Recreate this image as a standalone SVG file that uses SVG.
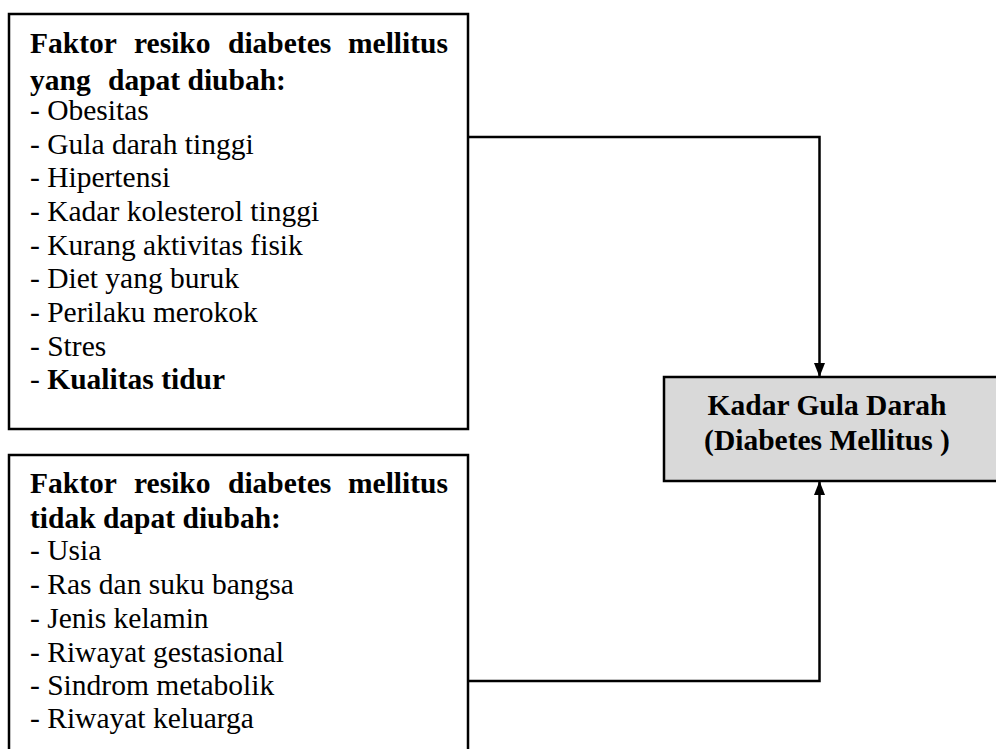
<svg xmlns="http://www.w3.org/2000/svg" width="996" height="749" viewBox="0 0 996 749">
<style>
.box{fill:#ffffff;stroke:#000000;stroke-width:2.5}
.main{fill:#d9d9d9;stroke:#000000;stroke-width:2.5}
.t{font-family:"Liberation Serif","Times New Roman",serif;font-size:29.5px;fill:#000000}
.b{font-weight:bold}
.c{text-anchor:middle}
.conn{fill:none;stroke:#000000;stroke-width:2.5}
</style>
<defs>
<marker id="arr" markerWidth="14" markerHeight="11" refX="14" refY="5.5" orient="auto" markerUnits="userSpaceOnUse" viewBox="0 0 14 11">
<path d="M0,0 L14,5.5 L0,11 Z" fill="#000000"/>
</marker>
</defs>
<rect width="996" height="749" fill="#ffffff"/>
<g id="node-modifiable">
<rect class="box" x="9" y="14" width="459" height="415"/>
<text class="t b" y="53"><tspan x="30">Faktor</tspan><tspan x="134">resiko</tspan><tspan x="228">diabetes</tspan><tspan x="348">mellitus</tspan></text>
<text class="t b" y="90"><tspan x="30">yang</tspan><tspan x="108">dapat diubah:</tspan></text>
<text class="t" x="30" y="120">- Obesitas</text>
<text class="t" x="30" y="154">- Gula darah tinggi</text>
<text class="t" x="30" y="187">- Hipertensi</text>
<text class="t" x="30" y="221">- Kadar kolesterol tinggi</text>
<text class="t" x="30" y="255">- Kurang aktivitas fisik</text>
<text class="t" x="30" y="288">- Diet yang buruk</text>
<text class="t" x="30" y="322">- Perilaku merokok</text>
<text class="t" x="30" y="356">- Stres</text>
<text class="t" x="30" y="389">- <tspan class="b">Kualitas tidur</tspan></text>
</g>
<g id="node-nonmodifiable">
<rect class="box" x="9" y="455" width="459" height="300"/>
<text class="t b" y="493"><tspan x="30">Faktor</tspan><tspan x="134">resiko</tspan><tspan x="228">diabetes</tspan><tspan x="348">mellitus</tspan></text>
<text class="t b" x="30" y="528">tidak dapat diubah:</text>
<text class="t" x="30" y="560">- Usia</text>
<text class="t" x="30" y="594">- Ras dan suku bangsa</text>
<text class="t" x="30" y="628">- Jenis kelamin</text>
<text class="t" x="30" y="662">- Riwayat gestasional</text>
<text class="t" x="30" y="695">- Sindrom metabolik</text>
<text class="t" x="30" y="728">- Riwayat keluarga</text>
</g>
<g id="node-outcome">
<rect class="main" x="664" y="377" width="340" height="104"/>
<text class="t b c" x="827" y="415">Kadar Gula Darah</text>
<text class="t b c" x="827" y="450">(Diabetes Mellitus )</text>
</g>
<g id="connectors">
<path class="conn" d="M468,137 H819.5 V377" marker-end="url(#arr)"/>
<path class="conn" d="M468,681 H819.5 V481" marker-end="url(#arr)"/>
</g>
</svg>
